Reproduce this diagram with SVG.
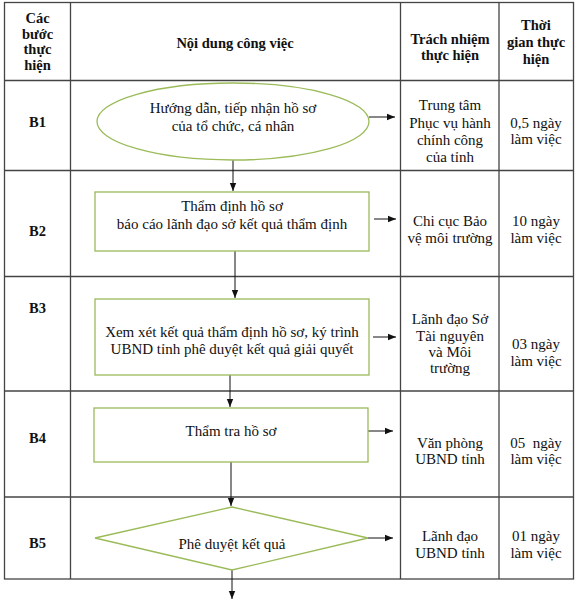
<svg xmlns="http://www.w3.org/2000/svg" width="576" height="604" viewBox="0 0 576 604">
<style>
text{font-family:"Liberation Serif","Times New Roman",serif;font-size:15px;fill:#111;text-anchor:middle}
.b{font-weight:bold;font-size:14.5px}
.grid{stroke:#444;stroke-width:1.3;fill:none}
.shape{stroke:#9bbb59;stroke-width:1.3;fill:#fff}
.conn{stroke:#111;stroke-width:1;fill:none;marker-end:url(#ah)}
</style>
<defs>
<marker id="ah" viewBox="0 0 8 8" refX="8" refY="4" markerWidth="8" markerHeight="8" markerUnits="userSpaceOnUse" orient="auto">
<path d="M0,0.8 L8,4 L0,7.2 Z" fill="#111"/>
</marker>
</defs>
<rect width="576" height="604" fill="#fff"/>
<g id="table">
<rect class="grid" x="4.5" y="2.5" width="569" height="576.5"/>
<line class="grid" x1="70.5" y1="2.5" x2="70.5" y2="579"/>
<line class="grid" x1="400.5" y1="2.5" x2="400.5" y2="579"/>
<line class="grid" x1="499" y1="2.5" x2="499" y2="579"/>
<line class="grid" x1="4.5" y1="80.5" x2="573.5" y2="80.5"/>
<line class="grid" x1="4.5" y1="170.5" x2="573.5" y2="170.5"/>
<line class="grid" x1="4.5" y1="276.5" x2="573.5" y2="276.5"/>
<line class="grid" x1="4.5" y1="391" x2="573.5" y2="391"/>
<line class="grid" x1="4.5" y1="497" x2="573.5" y2="497"/>
</g>
<g id="header">
<text class="b" x="37.5" y="23">Các</text>
<text class="b" x="37.5" y="38.5">bước</text>
<text class="b" x="37.5" y="54">thực</text>
<text class="b" x="37.5" y="69.5">hiện</text>
<text class="b" x="235" y="48">Nội dung công việc</text>
<text class="b" x="450" y="44">Trách nhiệm</text>
<text class="b" x="450" y="60">thực hiện</text>
<text class="b" x="536" y="30">Thời</text>
<text class="b" x="536" y="47">gian thực</text>
<text class="b" x="536" y="64">hiện</text>
</g>
<g id="labels">
<text class="b" x="37.5" y="127">B1</text>
<text class="b" x="37.5" y="236">B2</text>
<text class="b" x="37.5" y="313">B3</text>
<text class="b" x="37.5" y="443">B4</text>
<text class="b" x="37.5" y="548">B5</text>
</g>
<g id="connectors">
<line class="conn" x1="369" y1="117" x2="395" y2="117"/>
<line class="conn" x1="233" y1="160" x2="233" y2="191"/>
<line class="conn" x1="374" y1="219" x2="396" y2="219"/>
<line class="conn" x1="235" y1="251" x2="235" y2="298"/>
<line class="conn" x1="373" y1="337" x2="396" y2="337"/>
<line class="conn" x1="230" y1="375" x2="230" y2="407"/>
<line class="conn" x1="368" y1="431" x2="393" y2="431"/>
<line class="conn" x1="231" y1="462" x2="231" y2="506"/>
<line class="conn" x1="368" y1="538" x2="393" y2="538"/>
<line class="conn" x1="232" y1="570" x2="232" y2="599"/>
</g>
<g id="n1">
<ellipse class="shape" cx="233" cy="121.5" rx="136" ry="38.5"/>
<text x="233" y="112.5">Hướng dẫn, tiếp nhận hồ sơ</text>
<text x="233" y="130.5">của tổ chức, cá nhân</text>
</g>
<g id="n2">
<rect class="shape" x="95" y="192" width="274" height="59"/>
<text x="232" y="210.5">Thẩm định hồ sơ</text>
<text x="232" y="228.5">báo cáo lãnh đạo sở kết quả thẩm định</text>
</g>
<g id="n3">
<rect class="shape" x="95" y="299" width="274" height="76"/>
<text x="232" y="336.5">Xem xét kết quả thẩm định hồ sơ, ký trình</text>
<text x="232" y="353.5">UBND tỉnh phê duyệt kết quả giải quyết</text>
</g>
<g id="n4">
<rect class="shape" x="94" y="408" width="274" height="54"/>
<text x="231" y="435.5">Thẩm tra hồ sơ</text>
</g>
<g id="n5">
<polygon class="shape" points="232,507 368,538 232,570 95,538"/>
<text x="232" y="548.5">Phê duyệt kết quả</text>
</g>
<g id="resp">
<text x="450" y="109.5">Trung tâm</text>
<text x="450" y="127.5">Phục vụ hành</text>
<text x="450" y="144.5">chính công</text>
<text x="450" y="161.5">của tỉnh</text>
<text x="450" y="225.5">Chi cục Bảo</text>
<text x="450" y="242.5">vệ môi trường</text>
<text x="450" y="323.5">Lãnh đạo Sở</text>
<text x="450" y="340.5">Tài nguyên</text>
<text x="450" y="356.5">và Môi</text>
<text x="450" y="372.5">trường</text>
<text x="450" y="447.5">Văn phòng</text>
<text x="450" y="463.5">UBND tỉnh</text>
<text x="450" y="540.5">Lãnh đạo</text>
<text x="450" y="557.5">UBND tỉnh</text>
</g>
<g id="time">
<text x="536" y="127.5">0,5 ngày</text>
<text x="536" y="143.5">làm việc</text>
<text x="536" y="225.5">10 ngày</text>
<text x="536" y="242.5">làm việc</text>
<text x="536" y="348.5">03 ngày</text>
<text x="536" y="365.5">làm việc</text>
<text x="536" y="447.5" xml:space="preserve">05  ngày</text>
<text x="536" y="463.5">làm việc</text>
<text x="536" y="540.5">01 ngày</text>
<text x="536" y="557.5">làm việc</text>
</g>
</svg>
